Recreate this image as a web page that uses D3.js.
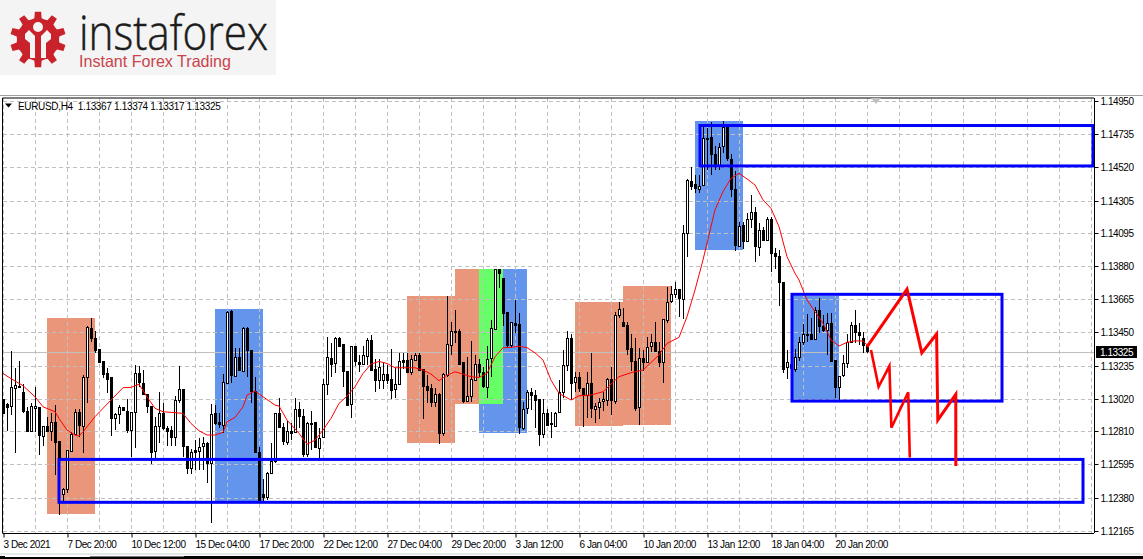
<!DOCTYPE html>
<html><head><meta charset="utf-8">
<script src="https://cdn.jsdelivr.net/npm/d3@7"></script>
<style>html,body{margin:0;padding:0;background:#fff;overflow:hidden}svg{display:block}text{font-family:"Liberation Sans",Arial,sans-serif}</style>
</head><body><svg id="c" width="1143" height="559"></svg>
<script>
// Prices in points (1.13325 = 113325)
const opens=[113018,112986,112968,113092,113094,113061,112940,112813,112962,112964,
112780,112843,112811,112867,112746,112400,112433,112677,112789,112932,
112845,113156,113478,113416,113342,113265,113189,113159,112891,112917,
112964,112943,112815,112932,113185,113120,113048,112973,112677,112841,
112925,112830,112817,112774,113007,113081,112713,112573,112685,112683,
112709,112731,112601,112925,112867,112850,113124,113589,113167,113288,
113200,113476,113336,113072,112677,112400,112379,112536,112614,112925,
112834,112742,112813,112802,112951,112908,112661,112862,112867,112702,
112767,113111,113286,113247,113411,113374,113199,112983,113359,113258,
113245,113299,113400,113212,113141,113139,113180,113148,113078,113111,
113271,113271,113189,113273,113303,113210,113102,113087,112994,113048,
112793,113176,113364,113459,113459,113256,113005,113033,113143,113245,
113195,113102,113279,113474,113861,113802,113582,113368,113511,113502,
112832,112955,113061,113044,113018,112793,112931,112860,112849,112929,
113059,113235,113412,113124,113159,113088,113044,113120,112951,112969,
113001,113012,113146,113008,113561,113515,113498,113347,113267,112962,
113282,113260,113358,113386,113327,113254,113535,113649,113697,113729,
113665,114092,114432,114410,114384,114401,114710,114715,114605,114535,
114654,114780,114572,114378,114012,114144,114038,114183,114229,114006,
114114,114049,114183,113963,113945,113779,113222,113245,113217,113293,
113390,113440,113438,113407,113596,113492,113466,113509,113271,113098,
113170,113250,113386,113496,113451,113412,113367];
const highs=[113018,112990,113329,113217,113265,113115,112964,112990,113094,112964,
112843,112904,112925,112979,112746,112439,112685,112806,112953,112953,
113174,113491,113541,113459,113342,113265,113217,113159,112925,112979,
112964,113018,112932,113239,113234,113206,113048,112973,112904,113066,
112990,112843,112843,113038,113232,113081,112713,112694,112752,112763,
112774,112742,112984,112979,112925,113180,113589,113595,113351,113351,
113483,113483,113336,113159,112709,112500,112547,112735,112925,113027,
112860,112876,112860,113022,113001,112951,112871,112940,112867,112828,
113148,113418,113379,113418,113418,113374,113199,113361,113361,113303,
113361,113411,113433,113281,113281,113260,113238,113342,113217,113314,
113314,113314,113303,113314,113314,113210,113173,113119,113087,113055,
113184,113686,113519,113595,113470,113260,113292,113394,113303,113281,
113227,113361,113530,113861,113861,113802,113582,113515,113660,113573,
112996,113076,113087,113076,113018,113018,112957,112936,112936,113141,
113336,113459,113438,113196,113196,113088,113196,113314,112990,113023,
113066,113152,113228,113585,113649,113606,113515,113440,113412,113347,
113336,113423,113440,113515,113386,113535,113747,113753,113779,113729,
114144,114443,114525,114471,114471,114784,114773,114812,114659,114676,
114821,114780,114605,114497,114168,114168,114222,114341,114265,114157,
114136,114200,114200,113995,113984,113779,113336,113250,113340,113423,
113503,113567,113541,113617,113671,113563,113574,113574,113271,113170,
113304,113440,113516,113596,113509,113451,113374];
const lows=[112925,112813,112914,112666,113094,112925,112806,112806,112806,112655,
112716,112806,112748,112525,112266,112342,112411,112677,112785,112774,
112666,112990,113390,113314,113260,113152,113055,112780,112817,112854,
112943,112800,112644,112698,113094,113044,112925,112597,112623,112731,
112817,112716,112716,112716,112990,112644,112532,112532,112558,112558,
112558,112471,112216,112850,112828,112796,113120,113120,113163,113202,
113195,113163,112990,112670,112342,112353,112363,112536,112601,112832,
112720,112720,112752,112802,112828,112644,112644,112687,112698,112633,
112763,113044,113163,113184,113361,113098,112975,112897,113232,113195,
113238,113238,113206,113065,113083,113083,113119,113018,113027,113108,
113210,113191,113173,113271,113206,112888,112990,112968,112968,112726,
112780,113163,113303,113379,113238,112990,113001,113001,113141,113163,
113087,113022,113163,113470,113740,113491,113346,113346,113448,112791,
112817,112921,112947,112828,112715,112763,112849,112763,112838,112925,
113027,113200,113012,113066,113066,112839,112893,112897,112861,112889,
112941,112973,112915,112984,113546,113487,113304,113200,112943,112850,
113200,113250,113325,113325,113228,113124,113509,113639,113671,113548,
113537,113941,114373,114352,114352,114399,114503,114471,114503,114503,
114615,114561,114326,113980,114006,113989,114034,114125,113909,113948,
114045,114045,113844,113859,113623,113185,113146,113215,113196,113265,
113369,113390,113401,113401,113444,113455,113304,113256,113023,113012,
113163,113222,113384,113379,113369,113319,113317];
const closes=[112925,112968,113094,113109,113102,112936,112813,112973,112973,112780,
112843,112811,112867,112735,112627,112433,112685,112789,112932,112845,
113163,113483,113416,113336,113260,113180,113152,112893,112919,112964,
112943,112819,112932,113185,113124,113048,112968,112677,112841,112925,
112826,112813,112774,113012,113081,112709,112573,112675,112675,112709,
112731,112601,112919,112860,112852,113126,113584,113174,113288,113202,
113476,113336,113072,112677,112353,112379,112536,112614,112925,112834,
112742,112811,112800,112951,112904,112661,112860,112858,112702,112767,
113113,113288,113247,113411,113361,113202,112979,113359,113260,113245,
113303,113400,113208,113141,113223,113180,113141,113078,113113,113262,
113258,113195,113275,113303,113208,113098,113076,112994,113048,112795,
113178,113374,113457,113452,113245,113003,113037,113145,113245,113195,
113102,113281,113476,113861,113837,113578,113368,113515,113500,112832,
112957,113061,113042,113011,112793,112931,112851,112851,112931,113061,
113236,113412,113120,113159,113085,113044,113120,112958,112971,113001,
113016,113146,113008,113563,113600,113492,113345,113260,112962,113282,
113258,113358,113386,113325,113254,113535,113649,113697,113729,113669,
114092,114438,114401,114382,114401,114708,114706,114605,114535,114654,
114780,114579,114378,114012,114142,114038,114183,114229,114006,114114,
114049,114183,113963,113941,113779,113217,113256,113217,113293,113390,
113440,113433,113407,113596,113494,113466,113509,113261,113098,113170,
113250,113386,113496,113451,113429,113364,113325];

// Moving average readings: bar number and price
const maBars=[0,1,3,5,8,10,13,14,16,18,19,20,23,27,30,32,34,36,38,40,43,45,47,49,51,53,55,56,58,60,61,63,65,68,69,71,74,76,78,80,82,84,86,88,90,92,94,96,98,100,103,105,107,109,111,113,115,117,119,121,123,125,127,129,131,133,135,137,139,142,144,147,150,154,157,160,164,166,169,171,173,175,178,180,182,184,186,188,190,192,194,196,198,199,201,203,205,207,209,211,213,215,216];
const maValues=[113185,113167,113135,113105,113033,112968,112936,112893,112817,112785,112778,112806,112904,113012,113092,113094,113115,113033,112958,112936,112930,112925,112860,112813,112785,112785,112802,112871,112899,112968,113044,113070,113033,112979,112973,112882,112796,112726,112752,112817,112893,112990,113037,113098,113184,113245,113262,113249,113221,113221,113221,113206,113180,113137,113173,113195,113180,113163,113158,113184,113292,113351,113353,113361,113351,113318,113271,113141,113055,113012,113040,113044,113066,113163,113189,113206,113304,113379,113418,113552,113725,113920,114244,114363,114449,114481,114445,114406,114309,114254,114136,113941,113833,113790,113660,113585,113509,113401,113362,113386,113395,113395,113369];

// Tick labels
const yTicks=[114950,114735,114520,114305,114095,113880,113665,113450,113235,113020,112810,112595,112380,112165];
const xTickBars=[0,16,32,48,64,80,96,112,128,144,160,176,192,208];
const xTickLabels=["3 Dec 2021","7 Dec 20:00","10 Dec 12:00","15 Dec 04:00","17 Dec 20:00","22 Dec 12:00","27 Dec 04:00","29 Dec 20:00","3 Jan 12:00","6 Jan 04:00","10 Jan 20:00","13 Jan 12:00","18 Jan 04:00","20 Jan 20:00"];
const gridBars=d3.range(0,273,8);
const lastPrice=113325;
const headerText="EURUSD,H4  1.13367 1.13374 1.13317 1.13325";

// Shaded zones: [bar from, bar to, price top, price bottom]
const orangeZones=[[11,23,113543,112273],[101,113,113686,112733],[113,119,113861,112986],[143,155,113647,112843],[155,167,113751,112850]];
const blueZones=[[53,65,113602,112344],[119,131,113861,112798],[173,185,114821,113984],[197,209,113686,113012]];
const greenZones=[[119,125,113861,112986]];
// Outlined boxes
const frameZones=[[174.25,272.5,114791,114529],[197.25,249.75,113697,113005],[14,270,112627,112349]];
// Hand-drawn forecast paths
const path1Bars=[216,226,229.7,233.4,233.7,238.2,238.2];
const path1Prices=[113357,113731,113318,113440,112882,113049,112584];
const path2Bars=[217,218.9,221.6,222.1,226.3,226.7];
const path2Prices=[113336,113098,113232,112832,113062,112640];

const x=d3.scaleLinear().domain([0,1]).range([3,7]);
const y=d3.scaleLinear().domain([112165,114950]).range([530.7,101]);
const svg=d3.select("#c");

// ---- logo
const logo=svg.append("g");
logo.append("rect").attr("width",276).attr("height",75).attr("fill","#f4f4f4");
const gearPts=[];const teeth=10,cx=38,cy=39.5;
for(let i=0;i<teeth;i++){const a=i/teeth*2*Math.PI,s=2*Math.PI/teeth;
 [[-.5,21],[-.27,21.5],[-.18,28],[.18,28],[.27,21.5],[.5,21]].forEach(([f,r])=>gearPts.push([cx+r*Math.sin(a+f*s),cy-r*Math.cos(a+f*s)]));}
logo.append("path").attr("d",d3.line()(gearPts)+"Z").attr("fill","#c9222a");
logo.append("path").attr("d","M25 34L29 30L35 36V58H30V43L25 39Z").attr("fill","#f4f4f4");
logo.append("path").attr("d","M51 34L47 30L41 36V58H46V43L51 39Z").attr("fill","#f4f4f4");
logo.append("circle").attr("cx",38).attr("cy",27).attr("r",5).attr("fill","#f4f4f4");
logo.append("text").attr("x",79).attr("y",50).attr("font-size",48).attr("fill","#1c1c1c").attr("stroke","#1c1c1c").attr("stroke-width",.5)
 .style("font-family","'Open Sans','Liberation Sans',sans-serif").style("font-weight",300)
 .attr("textLength",189).attr("lengthAdjust","spacingAndGlyphs").text("instaforex");
logo.append("text").attr("x",79).attr("y",67).attr("font-size",16.5).attr("fill","#c9434c")
 .attr("textLength",152).attr("lengthAdjust","spacingAndGlyphs").text("Instant Forex Trading");

// ---- shaded zones
const zone=(data,fill)=>svg.append("g").attr("shape-rendering","crispEdges").selectAll("rect").data(data).join("rect")
 .attr("x",d=>x(d[0])).attr("width",d=>x(d[1])-x(d[0])).attr("y",d=>y(d[2])).attr("height",d=>y(d[3])-y(d[2])).attr("fill",fill);
zone(orangeZones,"#e9967a");zone(blueZones,"#6495ed");zone(greenZones,"#66ff66");

// ---- grid
const grid=svg.append("g").attr("stroke","#c0c0c0").attr("stroke-dasharray","4 3").attr("shape-rendering","crispEdges");
grid.selectAll(".h").data(yTicks).join("line").attr("class","h").attr("x1",3).attr("x2",1094).attr("y1",d=>Math.round(y(d))+.5).attr("y2",d=>Math.round(y(d))+.5);
grid.selectAll(".v").data(gridBars).join("line").attr("class","v").attr("y1",98).attr("y2",533).attr("x1",d=>x(d)+.5).attr("x2",d=>x(d)+.5);

// ---- last price line
svg.append("line").attr("x1",3).attr("x2",1094).attr("y1",Math.round(y(lastPrice))+.5).attr("y2",Math.round(y(lastPrice))+.5).attr("stroke","#c0c0c0").attr("shape-rendering","crispEdges");

// ---- candles
const bars=d3.range(opens.length).map(i=>({i,o:opens[i],h:highs[i],l:lows[i],c:closes[i]}));
const cg=svg.append("g").attr("shape-rendering","crispEdges");
cg.selectAll("line").data(bars).join("line").attr("x1",d=>x(d.i)+.5).attr("x2",d=>x(d.i)+.5).attr("y1",d=>y(d.h)).attr("y2",d=>y(d.l)).attr("stroke","#000");
cg.selectAll("rect").data(bars).join("rect").attr("x",d=>x(d.i)-1+.5).attr("width",2)
 .attr("y",d=>Math.round(y(Math.max(d.o,d.c)))+.5).attr("height",d=>Math.max(1,Math.round(Math.abs(y(d.o)-y(d.c)))))
 .attr("fill",d=>d.c>=d.o?"#fff":"#000").attr("stroke","#000");

// ---- moving average
svg.append("path").attr("d",d3.line().x(d=>x(d[0])).y(d=>y(d[1]))(d3.zip(maBars,maValues))).attr("fill","none").attr("stroke","#f00").attr("stroke-width",1);

// ---- outlined boxes
svg.append("g").selectAll("rect").data(frameZones).join("rect")
 .attr("x",d=>x(d[0])).attr("width",d=>x(d[1])-x(d[0])).attr("y",d=>y(d[2])).attr("height",d=>y(d[3])-y(d[2]))
 .attr("fill","none").attr("stroke","#0000ff").attr("stroke-width",3);

// ---- forecast paths
const rl=d3.line().x(d=>x(d[0])).y(d=>y(d[1]));
svg.append("path").attr("d",rl(d3.zip(path1Bars,path1Prices))).attr("fill","none").attr("stroke","#f00").attr("stroke-width",3).attr("stroke-linejoin","miter");
svg.append("path").attr("d",rl(d3.zip(path2Bars,path2Prices))).attr("fill","none").attr("stroke","#f00").attr("stroke-width",2.6).attr("stroke-linejoin","miter");

// ---- frame + axes
svg.append("line").attr("x1",0).attr("x2",1143).attr("y1",95.5).attr("y2",95.5).attr("stroke","#a0a0a0");
svg.append("line").attr("x1",2.5).attr("x2",1094).attr("y1",98).attr("y2",98).attr("stroke","#000");
svg.append("line").attr("x1",2.5).attr("x2",2.5).attr("y1",98).attr("y2",533).attr("stroke","#000");
svg.append("path").attr("d","M871 98h10l-5 6z").attr("fill","#c0c0c0");

const yAxis=svg.append("g").attr("transform","translate(1094.5,0)").call(d3.axisRight(y).tickValues(yTicks).tickFormat(d=>(d/1e5).toFixed(5)).tickSize(4).tickPadding(2));
yAxis.select(".domain").attr("d","M0 98V533");
yAxis.selectAll(".tick").attr("transform",d=>`translate(0,${Math.round(y(d))+.5})`);
yAxis.selectAll("line").attr("stroke","#000");
yAxis.selectAll("text").attr("font-size",10).attr("letter-spacing",-.45).attr("fill","#000").style("font-family","'Liberation Sans',Arial,sans-serif");

const xAxis=svg.append("g").attr("transform","translate(0,533.5)").call(d3.axisBottom(x).tickValues(xTickBars).tickFormat((d,i)=>xTickLabels[i]).tickSize(4).tickPadding(2));
xAxis.select(".domain").attr("d","M2.5 0H1094");
xAxis.selectAll("line").attr("stroke","#000").attr("x1",.5).attr("x2",.5);
xAxis.selectAll("text").attr("text-anchor","start").attr("font-size",10).attr("letter-spacing",-.45).attr("fill","#000").attr("y",7).style("font-family","'Liberation Sans',Arial,sans-serif");

// ---- last price tag
svg.append("rect").attr("x",1096).attr("y",Math.round(y(lastPrice))-6).attr("width",41).attr("height",12).attr("fill","#000");
svg.append("text").attr("x",1100).attr("y",Math.round(y(lastPrice))+3.5).attr("font-size",10).attr("letter-spacing",-.45).attr("fill","#fff").text((lastPrice/1e5).toFixed(5));

// ---- header
svg.append("path").attr("d","M5 103.5h7l-3.5 4z").attr("fill","#000");
svg.append("text").attr("x",18).attr("y",109.5).attr("font-size",10).attr("letter-spacing",-.33).attr("fill","#000").attr("xml:space","preserve").style("white-space","pre").text(headerText);

// ---- window bottom edge
svg.append("rect").attr("x",0).attr("y",553).attr("width",1143).attr("height",2).attr("fill","#e8e8e8");
svg.append("rect").attr("x",0).attr("y",556).attr("width",1143).attr("height",3).attr("fill","#000");
svg.append("rect").attr("x",5).attr("y",556).attr("width",85).attr("height",1).attr("fill","#fff");
svg.append("rect").attr("x",90).attr("y",556).attr("width",94).attr("height",1).attr("fill","#777");
</script></body></html>
